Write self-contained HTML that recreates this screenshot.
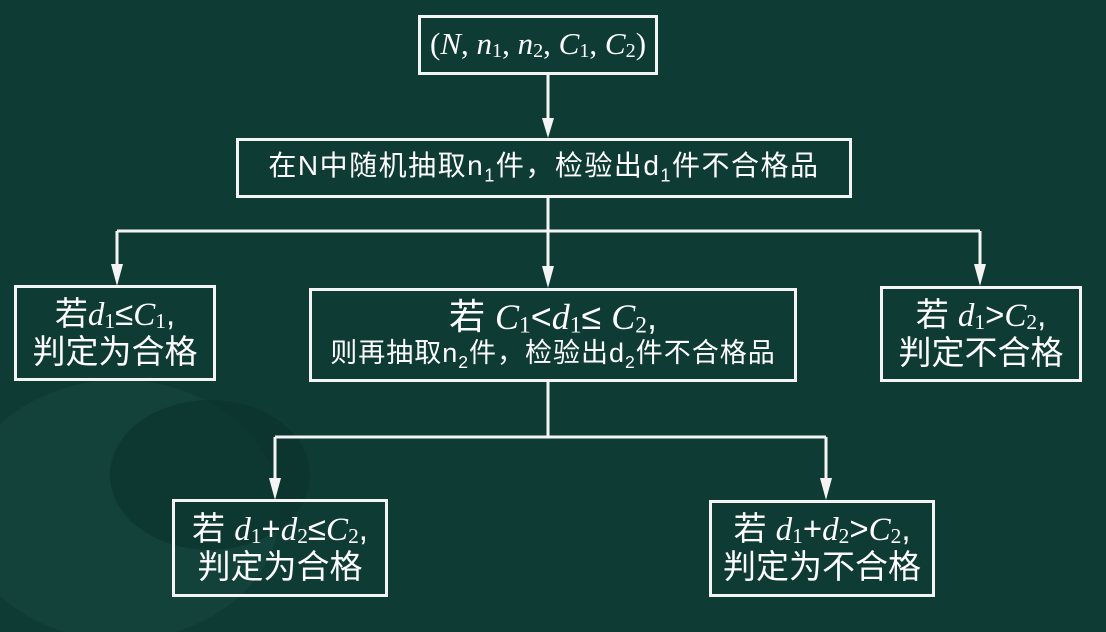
<!DOCTYPE html>
<html><head><meta charset="utf-8"><style>
html,body{margin:0;padding:0;width:1106px;height:632px;overflow:hidden;}
body{background:#0e3b34;position:relative;font-family:"Liberation Sans","Noto Sans CJK SC",sans-serif;color:#fff;}
.b{position:absolute;border:3px solid #f4f4f4;box-sizing:border-box;display:flex;flex-direction:column;align-items:center;justify-content:center;text-align:center;line-height:1.12;white-space:nowrap;}
.b>div{white-space:nowrap;}
i{font-family:"Liberation Serif",serif;font-style:italic;}
.s{font-family:"Liberation Serif",serif;font-style:normal;font-size:0.65em;vertical-align:-0.15em;}
.z{font-size:0.65em;vertical-align:-0.35em;}
.blob{position:absolute;border-radius:50%;background:#154a40;}
</style></head><body>
<div class="blob" style="left:-40px;top:380px;width:320px;height:260px;opacity:.5"></div>
<div class="blob" style="left:110px;top:400px;width:200px;height:150px;background:#0c3530;opacity:.8"></div>
<svg width="1106" height="632" style="position:absolute;left:0;top:0">
<g stroke="#f4f4f4" stroke-width="3" fill="none">
<line x1="548" y1="75" x2="548" y2="130"/>
<line x1="548" y1="198" x2="548" y2="280"/>
<line x1="117" y1="231" x2="980" y2="231"/>
<line x1="117" y1="231" x2="117" y2="278"/>
<line x1="980" y1="231" x2="980" y2="278"/>
<line x1="548" y1="382" x2="548" y2="437"/>
<line x1="275" y1="437" x2="826" y2="437"/>
<line x1="275" y1="437" x2="275" y2="492"/>
<line x1="826" y1="437" x2="826" y2="492"/>
</g>
<g fill="#f4f4f4">
<polygon points="542,118 554,118 548,138"/>
<polygon points="542,266 554,266 548,288"/>
<polygon points="111,264 123,264 117,286"/>
<polygon points="974,264 986,264 980,286"/>
<polygon points="269,478 281,478 275,500"/>
<polygon points="820,478 832,478 826,500"/>
</g>
</svg>
<div class="b" style="left:418px;top:15px;width:240px;height:60px;font-size:31px;font-family:'Liberation Serif',serif"><div>(<i>N</i>, <i>n</i><span class="s">1</span>, <i>n</i><span class="s">2</span>, <i>C</i><span class="s">1</span>, <i>C</i><span class="s">2</span>)</div></div>
<div class="b" style="left:236px;top:138px;width:616px;height:60px;font-size:28px;letter-spacing:1.5px"><div>在N中随机抽取n<span class="z">1</span>件，检验出d<span class="z">1</span>件不合格品</div></div>
<div class="b" style="left:14px;top:285px;width:202px;height:96px;font-size:33px"><div>若<i>d</i><span class="s">1</span>≤<i>C</i><span class="s">1</span>,</div><div>判定为合格</div></div>
<div class="b" style="left:309px;top:288px;width:488px;height:94px"><div style="font-size:36px">若 <i>C</i><span class="s">1</span>&lt;<i>d</i><span class="s">1</span>≤ <i>C</i><span class="s">2</span>,</div><div style="font-size:27px;letter-spacing:1px">则再抽取n<span class="z">2</span>件，检验出d<span class="z">2</span>件不合格品</div></div>
<div class="b" style="left:880px;top:286px;width:202px;height:96px;font-size:33px"><div>若 <i>d</i><span class="s">1</span>&gt;<i>C</i><span class="s">2</span>,</div><div>判定不合格</div></div>
<div class="b" style="left:172px;top:499px;width:216px;height:98px;font-size:33px"><div>若 <i>d</i><span class="s">1</span>+<i>d</i><span class="s">2</span>≤<i>C</i><span class="s">2</span>,</div><div>判定为合格</div></div>
<div class="b" style="left:709px;top:500px;width:226px;height:97px;font-size:33px"><div>若 <i>d</i><span class="s">1</span>+<i>d</i><span class="s">2</span>&gt;<i>C</i><span class="s">2</span>,</div><div>判定为不合格</div></div>
</body></html>
